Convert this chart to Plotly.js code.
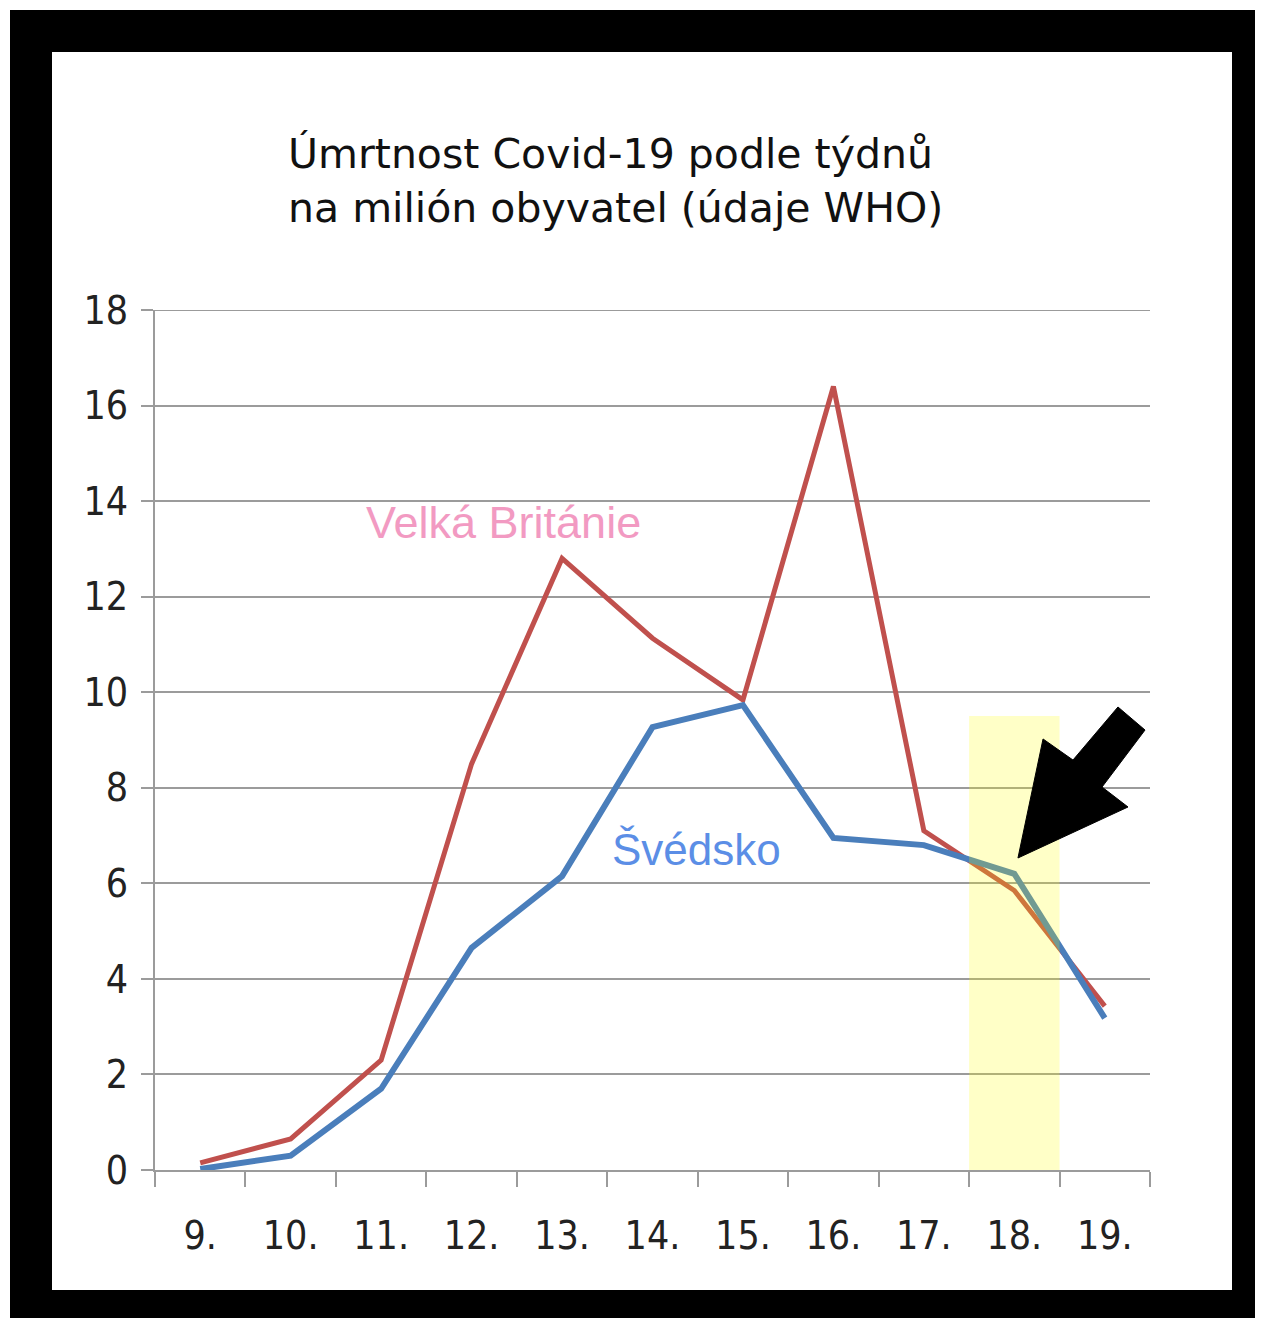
<!DOCTYPE html>
<html>
<head>
<meta charset="utf-8">
<script src="https://cdn.plot.ly/plotly-3.0.1.min.js"></script>
<style>
  html, body { margin: 0; padding: 0; background: #ffffff; width: 1262px; height: 1324px; overflow: hidden; }
  #frame { position: absolute; left: 10px; top: 10px; width: 1245px; height: 1308px; background: #000000; }
  #chart { position: absolute; left: 42px; top: 42px; width: 1180px; height: 1238px; background: #ffffff; }
</style>
</head>
<body>
<div id="frame"><div id="chart"></div></div>
<script>
// Data
const weeks = ['9.', '10.', '11.', '12.', '13.', '14.', '15.', '16.', '17.', '18.', '19.'];
const ukDeaths = [0.15, 0.65, 2.3, 8.5, 12.8, 11.13, 9.84, 16.4, 7.1, 5.85, 3.43];
const seDeaths = [0.02, 0.3, 1.7, 4.65, 6.15, 9.27, 9.73, 6.95, 6.8, 6.2, 3.18];
const yTickVals = [0, 2, 4, 6, 8, 10, 12, 14, 16, 18];
const ukLabel = 'Velká Británie';
const seLabel = 'Švédsko';
const titleText = 'Úmrtnost Covid-19 podle týdnů<br>na milión obyvatel (údaje WHO)';
const highlightWeek = '18.';
const highlightTop = 9.5;
const yMax = 18;

const gridGray = '#9b9b9b';
const tickFont = { family: '"Liberation Sans Narrow", "DejaVu Sans Condensed", sans-serif', size: 39, color: '#222222' };

const traces = [
  { x: weeks, y: ukDeaths, type: 'scatter', mode: 'lines', name: ukLabel,
    line: { color: '#c0504d', width: 5 }, hoverinfo: 'skip' },
  { x: weeks, y: seDeaths, type: 'scatter', mode: 'lines', name: seLabel,
    line: { color: '#4a7ebb', width: 6 }, hoverinfo: 'skip' }
];

const hi = weeks.indexOf(highlightWeek);

const layout = {
  width: 1180, height: 1238,
  paper_bgcolor: '#ffffff', plot_bgcolor: '#ffffff',
  showlegend: false,
  margin: { l: 103, r: 82, t: 258, b: 120 },
  title: {
    text: titleText,
    font: { family: '"DejaVu Sans", sans-serif', size: 41, color: '#111111' },
    xref: 'container', yref: 'container',
    x: 0.2, xanchor: 'left',
    y: 0.906, yanchor: 'top'
  },
  xaxis: {
    type: 'category',
    range: [-0.5, weeks.length - 0.5],
    tickson: 'boundaries',
    ticks: 'outside', ticklen: 15, tickwidth: 2, tickcolor: gridGray,
    showgrid: false, zeroline: false,
    showline: true, linecolor: gridGray, linewidth: 2,
    tickfont: tickFont,
    ticklabelstandoff: 30
  },
  yaxis: {
    range: [0, yMax],
    tickvals: yTickVals,
    ticktext: yTickVals.map(String),
    ticks: 'outside', ticklen: 12, tickwidth: 2, tickcolor: gridGray,
    showgrid: true, gridcolor: gridGray, gridwidth: 2,
    zeroline: false,
    showline: true, linecolor: gridGray, linewidth: 2,
    tickfont: tickFont,
    ticklabelstandoff: 5
  },
  shapes: [
    { type: 'line', xref: 'paper', yref: 'y', x0: 0, x1: 1, y0: yMax, y1: yMax,
      line: { color: gridGray, width: 2 }, layer: 'below' },
    { type: 'rect', xref: 'x', yref: 'y', x0: hi - 0.5, x1: hi + 0.5, y0: 0, y1: highlightTop,
      fillcolor: '#ffff00', opacity: 0.22, line: { width: 0 }, layer: 'above' },
    { type: 'path', xref: 'paper', yref: 'paper',
      path: 'M0.8673,0.3628 L0.8925,0.5012 L0.9226,0.4767 L0.9678,0.5384 L0.9950,0.5116 L0.9518,0.4453 L0.9779,0.4221 Z',
      fillcolor: '#000000', line: { color: '#000000', width: 1 }, layer: 'above' }
  ],
  annotations: [
    { text: ukLabel, xref: 'x', yref: 'y', x: 3.35, y: 13.56, showarrow: false,
      font: { family: '"Liberation Sans", Arial, sans-serif', size: 45, color: '#f29ac2' } },
    { text: seLabel, xref: 'x', yref: 'y', x: 5.49, y: 6.7, showarrow: false,
      font: { family: '"Liberation Sans", Arial, sans-serif', size: 44, color: '#5b8ee6' } }
  ]
};

Plotly.newPlot('chart', traces, layout, { staticPlot: true, displayModeBar: false });
</script>
</body>
</html>
